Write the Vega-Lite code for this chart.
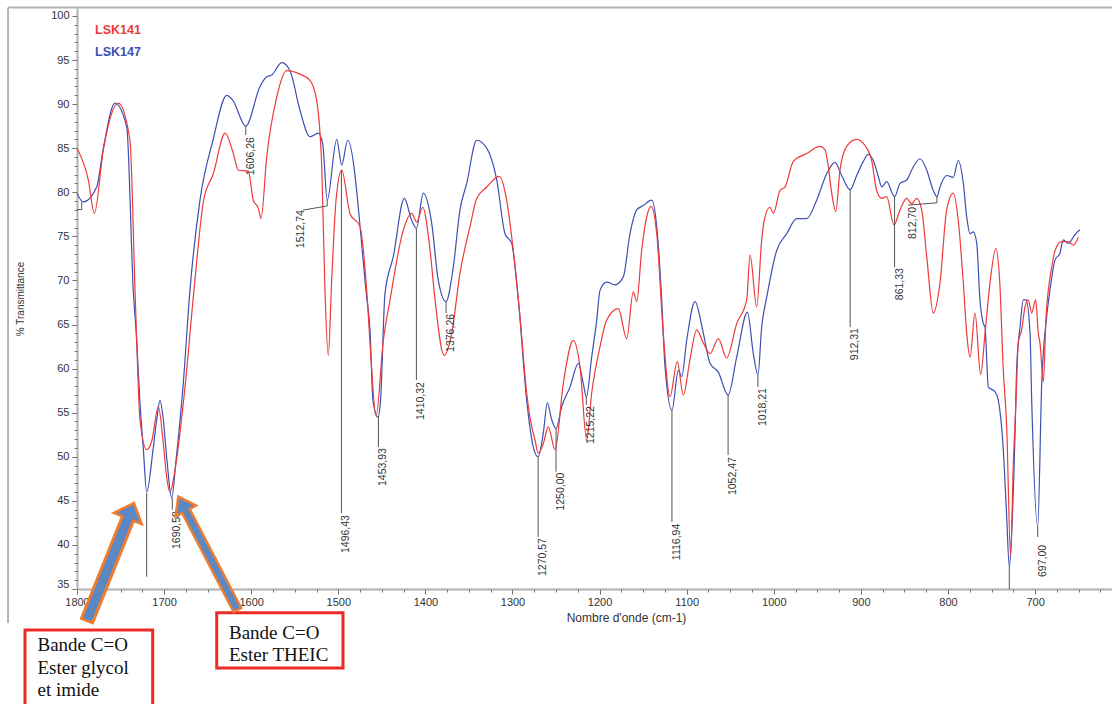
{
"$schema":"https://vega.github.io/schema/vega-lite/v6.json",
"width":1035,"height":581,
"autosize":{"type":"none"},
"padding":{"left":77,"top":8,"right":0,"bottom":115},
"background":"white",
"config":{"view":{"stroke":null},"font":"Liberation Sans","axis":{"grid":false}},
"datasets":{
"spectra":[
{"s":"LSK147","w":1800,"t":79.9},{"s":"LSK147","w":1792.8,"t":78.9},{"s":"LSK147","w":1777.4,"t":80.6},{"s":"LSK147","w":1770.1,"t":84.8},{"s":"LSK147","w":1756.4,"t":90.1},{"s":"LSK147","w":1742.9,"t":87.4},{"s":"LSK147","w":1735.4,"t":68.9},{"s":"LSK147","w":1731.5,"t":63.2},{"s":"LSK147","w":1727.7,"t":56.1},{"s":"LSK147","w":1723.8,"t":50.8},{"s":"LSK147","w":1720.0,"t":46.0},{"s":"LSK147","w":1712.7,"t":50.8},{"s":"LSK147","w":1708.5,"t":54.2},{"s":"LSK147","w":1704.7,"t":56.4},{"s":"LSK147","w":1700.9,"t":54.2},{"s":"LSK147","w":1696.7,"t":49.6},{"s":"LSK147","w":1691.3,"t":45.3},{"s":"LSK147","w":1686.3,"t":49.6},{"s":"LSK147","w":1678.0,"t":58.3},{"s":"LSK147","w":1670.3,"t":68.9},{"s":"LSK147","w":1658.8,"t":79.1},{"s":"LSK147","w":1643.9,"t":85.9},{"s":"LSK147","w":1628.1,"t":91.0},{"s":"LSK147","w":1620.9,"t":90.4},{"s":"LSK147","w":1606.3,"t":87.5},{"s":"LSK147","w":1589.9,"t":92.0},{"s":"LSK147","w":1582.2,"t":93.1},{"s":"LSK147","w":1576.4,"t":93.3},{"s":"LSK147","w":1565.0,"t":94.7},{"s":"LSK147","w":1555.5,"t":93.8},{"s":"LSK147","w":1544.0,"t":89.3},{"s":"LSK147","w":1532.5,"t":86.3},{"s":"LSK147","w":1523.0,"t":86.7},{"s":"LSK147","w":1517.9,"t":85.5},{"s":"LSK147","w":1512.7,"t":79.1},{"s":"LSK147","w":1501.8,"t":86.0},{"s":"LSK147","w":1496.1,"t":83.1},{"s":"LSK147","w":1489.2,"t":85.9},{"s":"LSK147","w":1467.4,"t":68.1},{"s":"LSK147","w":1463.6,"t":64.4},{"s":"LSK147","w":1460.2,"t":56.4},{"s":"LSK147","w":1454.5,"t":54.5},{"s":"LSK147","w":1451.5,"t":56.4},{"s":"LSK147","w":1446.4,"t":68.5},{"s":"LSK147","w":1436.9,"t":72.7},{"s":"LSK147","w":1424.2,"t":79.3},{"s":"LSK147","w":1415.7,"t":76.8},{"s":"LSK147","w":1410.3,"t":75.9},{"s":"LSK147","w":1402.4,"t":79.9},{"s":"LSK147","w":1392.8,"t":76.5},{"s":"LSK147","w":1385.2,"t":70.0},{"s":"LSK147","w":1376.3,"t":67.6},{"s":"LSK147","w":1368.0,"t":71.5},{"s":"LSK147","w":1360.3,"t":78.0},{"s":"LSK147","w":1352.6,"t":81.0},{"s":"LSK147","w":1341.1,"t":85.9},{"s":"LSK147","w":1329.6,"t":85.0},{"s":"LSK147","w":1318.1,"t":81.4},{"s":"LSK147","w":1308.6,"t":75.3},{"s":"LSK147","w":1300.9,"t":74.2},{"s":"LSK147","w":1293.3,"t":67.8},{"s":"LSK147","w":1283.7,"t":56.4},{"s":"LSK147","w":1276.1,"t":51.1},{"s":"LSK147","w":1270.6,"t":50.0},{"s":"LSK147","w":1264.6,"t":52.7},{"s":"LSK147","w":1260.0,"t":56.1},{"s":"LSK147","w":1255.0,"t":54.2},{"s":"LSK147","w":1250.0,"t":53.2},{"s":"LSK147","w":1243.5,"t":55.7},{"s":"LSK147","w":1234.0,"t":57.9},{"s":"LSK147","w":1224.4,"t":60.6},{"s":"LSK147","w":1218.7,"t":58.3},{"s":"LSK147","w":1215.2,"t":56.8},{"s":"LSK147","w":1209.1,"t":61.3},{"s":"LSK147","w":1203.3,"t":65.5},{"s":"LSK147","w":1199.5,"t":68.9},{"s":"LSK147","w":1191.8,"t":69.8},{"s":"LSK147","w":1182.3,"t":69.5},{"s":"LSK147","w":1172.8,"t":70.4},{"s":"LSK147","w":1165.1,"t":75.3},{"s":"LSK147","w":1157.4,"t":78.0},{"s":"LSK147","w":1149.8,"t":78.5},{"s":"LSK147","w":1140.2,"t":79.1},{"s":"LSK147","w":1134.4,"t":76.1},{"s":"LSK147","w":1128.7,"t":67.8},{"s":"LSK147","w":1124.9,"t":60.2},{"s":"LSK147","w":1116.9,"t":55.3},{"s":"LSK147","w":1109.6,"t":59.8},{"s":"LSK147","w":1105.7,"t":59.1},{"s":"LSK147","w":1100.0,"t":63.2},{"s":"LSK147","w":1090.5,"t":67.6},{"s":"LSK147","w":1080.9,"t":64.0},{"s":"LSK147","w":1073.2,"t":60.6},{"s":"LSK147","w":1063.7,"t":59.6},{"s":"LSK147","w":1052.5,"t":57.0},{"s":"LSK147","w":1042.6,"t":61.3},{"s":"LSK147","w":1030.3,"t":66.4},{"s":"LSK147","w":1023.5,"t":61.7},{"s":"LSK147","w":1018.2,"t":59.3},{"s":"LSK147","w":1013.9,"t":64.7},{"s":"LSK147","w":1008.1,"t":68.1},{"s":"LSK147","w":996.7,"t":73.4},{"s":"LSK147","w":985.2,"t":75.3},{"s":"LSK147","w":973.7,"t":77.0},{"s":"LSK147","w":962.2,"t":77.0},{"s":"LSK147","w":950.8,"t":79.1},{"s":"LSK147","w":939.3,"t":82.1},{"s":"LSK147","w":929.7,"t":83.4},{"s":"LSK147","w":922.1,"t":81.9},{"s":"LSK147","w":912.3,"t":80.3},{"s":"LSK147","w":904.8,"t":81.9},{"s":"LSK147","w":897.2,"t":83.5},{"s":"LSK147","w":891.5,"t":84.3},{"s":"LSK147","w":885.8,"t":83.6},{"s":"LSK147","w":880.0,"t":81.8},{"s":"LSK147","w":876.1,"t":80.6},{"s":"LSK147","w":870.4,"t":81.2},{"s":"LSK147","w":861.3,"t":79.5},{"s":"LSK147","w":855.1,"t":81.0},{"s":"LSK147","w":847.4,"t":81.4},{"s":"LSK147","w":839.8,"t":82.9},{"s":"LSK147","w":832.1,"t":83.8},{"s":"LSK147","w":824.4,"t":82.5},{"s":"LSK147","w":816.9,"t":80.2},{"s":"LSK147","w":812.7,"t":79.5},{"s":"LSK147","w":809.2,"t":80.6},{"s":"LSK147","w":801.5,"t":81.9},{"s":"LSK147","w":793.9,"t":81.7},{"s":"LSK147","w":788.2,"t":83.6},{"s":"LSK147","w":782.4,"t":81.0},{"s":"LSK147","w":778.5,"t":77.2},{"s":"LSK147","w":774.7,"t":75.3},{"s":"LSK147","w":770.9,"t":75.5},{"s":"LSK147","w":767.0,"t":74.2},{"s":"LSK147","w":763.3,"t":67.8},{"s":"LSK147","w":759.4,"t":65.1},{"s":"LSK147","w":757.5,"t":64.7},{"s":"LSK147","w":753.7,"t":57.9},{"s":"LSK147","w":746.0,"t":57.4},{"s":"LSK147","w":742.2,"t":56.4},{"s":"LSK147","w":736.5,"t":50.8},{"s":"LSK147","w":732.6,"t":43.2},{"s":"LSK147","w":729.6,"t":37.5},{"s":"LSK147","w":726.9,"t":41.3},{"s":"LSK147","w":723.0,"t":52.7},{"s":"LSK147","w":721.1,"t":60.2},{"s":"LSK147","w":717.3,"t":64.7},{"s":"LSK147","w":713.5,"t":67.8},{"s":"LSK147","w":710.4,"t":67.8},{"s":"LSK147","w":705.8,"t":64.0},{"s":"LSK147","w":703.9,"t":56.4},{"s":"LSK147","w":697.0,"t":42.1},{"s":"LSK147","w":692.4,"t":58.3},{"s":"LSK147","w":686.7,"t":65.9},{"s":"LSK147","w":682.9,"t":68.9},{"s":"LSK147","w":677.1,"t":72.3},{"s":"LSK147","w":671.4,"t":73.1},{"s":"LSK147","w":667.6,"t":74.6},{"s":"LSK147","w":661.8,"t":74.2},{"s":"LSK147","w":656.1,"t":74.9},{"s":"LSK147","w":650.4,"t":75.6},{"s":"LSK147","w":648.4,"t":75.7},
{"s":"LSK141","w":1800,"t":85.0},{"s":"LSK141","w":1787.0,"t":81.4},{"s":"LSK141","w":1780.1,"t":77.6},{"s":"LSK141","w":1769.8,"t":84.8},{"s":"LSK141","w":1752.6,"t":90.1},{"s":"LSK141","w":1739.2,"t":85.9},{"s":"LSK141","w":1733.4,"t":68.9},{"s":"LSK141","w":1731.1,"t":62.1},{"s":"LSK141","w":1727.7,"t":54.2},{"s":"LSK141","w":1720.0,"t":50.8},{"s":"LSK141","w":1713.9,"t":51.9},{"s":"LSK141","w":1706.6,"t":55.7},{"s":"LSK141","w":1701.3,"t":51.9},{"s":"LSK141","w":1696.7,"t":47.4},{"s":"LSK141","w":1693.2,"t":46.0},{"s":"LSK141","w":1687.5,"t":48.5},{"s":"LSK141","w":1676.0,"t":57.9},{"s":"LSK141","w":1665.7,"t":68.9},{"s":"LSK141","w":1654.6,"t":79.1},{"s":"LSK141","w":1643.5,"t":82.1},{"s":"LSK141","w":1630.0,"t":86.7},{"s":"LSK141","w":1620.5,"t":84.4},{"s":"LSK141","w":1614.8,"t":82.5},{"s":"LSK141","w":1603.3,"t":82.4},{"s":"LSK141","w":1597.6,"t":79.1},{"s":"LSK141","w":1591.8,"t":78.2},{"s":"LSK141","w":1588.7,"t":77.0},{"s":"LSK141","w":1582.2,"t":84.0},{"s":"LSK141","w":1570.7,"t":90.8},{"s":"LSK141","w":1559.2,"t":93.8},{"s":"LSK141","w":1544.0,"t":93.4},{"s":"LSK141","w":1532.5,"t":92.7},{"s":"LSK141","w":1524.8,"t":90.4},{"s":"LSK141","w":1519.0,"t":82.9},{"s":"LSK141","w":1515.3,"t":68.9},{"s":"LSK141","w":1511.5,"t":61.5},{"s":"LSK141","w":1507.6,"t":70.0},{"s":"LSK141","w":1502.6,"t":79.1},{"s":"LSK141","w":1496.1,"t":82.5},{"s":"LSK141","w":1486.6,"t":77.6},{"s":"LSK141","w":1475.1,"t":76.1},{"s":"LSK141","w":1467.4,"t":68.9},{"s":"LSK141","w":1462.4,"t":61.0},{"s":"LSK141","w":1456.7,"t":54.6},{"s":"LSK141","w":1448.3,"t":63.2},{"s":"LSK141","w":1440.6,"t":67.8},{"s":"LSK141","w":1425.4,"t":75.7},{"s":"LSK141","w":1415.7,"t":77.6},{"s":"LSK141","w":1410.0,"t":76.6},{"s":"LSK141","w":1403.1,"t":78.3},{"s":"LSK141","w":1394.6,"t":73.4},{"s":"LSK141","w":1388.9,"t":67.8},{"s":"LSK141","w":1378.6,"t":61.5},{"s":"LSK141","w":1369.8,"t":64.0},{"s":"LSK141","w":1360.3,"t":70.8},{"s":"LSK141","w":1348.8,"t":76.1},{"s":"LSK141","w":1341.1,"t":79.3},{"s":"LSK141","w":1329.6,"t":80.6},{"s":"LSK141","w":1315.2,"t":81.8},{"s":"LSK141","w":1306.7,"t":79.1},{"s":"LSK141","w":1299.1,"t":73.4},{"s":"LSK141","w":1291.4,"t":65.9},{"s":"LSK141","w":1283.7,"t":57.2},{"s":"LSK141","w":1280.0,"t":54.5},{"s":"LSK141","w":1274.2,"t":51.9},{"s":"LSK141","w":1270.4,"t":50.4},{"s":"LSK141","w":1264.6,"t":51.5},{"s":"LSK141","w":1258.9,"t":53.4},{"s":"LSK141","w":1251.2,"t":50.8},{"s":"LSK141","w":1241.7,"t":58.3},{"s":"LSK141","w":1230.2,"t":63.2},{"s":"LSK141","w":1222.5,"t":60.2},{"s":"LSK141","w":1214.8,"t":51.9},{"s":"LSK141","w":1209.1,"t":57.2},{"s":"LSK141","w":1199.5,"t":62.5},{"s":"LSK141","w":1191.8,"t":65.5},{"s":"LSK141","w":1178.5,"t":66.8},{"s":"LSK141","w":1168.9,"t":63.4},{"s":"LSK141","w":1161.3,"t":68.7},{"s":"LSK141","w":1157.4,"t":67.6},{"s":"LSK141","w":1151.7,"t":73.4},{"s":"LSK141","w":1145.9,"t":77.2},{"s":"LSK141","w":1141.0,"t":78.4},{"s":"LSK141","w":1134.4,"t":75.3},{"s":"LSK141","w":1126.9,"t":64.0},{"s":"LSK141","w":1119.2,"t":56.8},{"s":"LSK141","w":1110.8,"t":60.8},{"s":"LSK141","w":1103.9,"t":57.0},{"s":"LSK141","w":1096.3,"t":61.0},{"s":"LSK141","w":1088.5,"t":64.4},{"s":"LSK141","w":1080.9,"t":62.9},{"s":"LSK141","w":1073.2,"t":61.7},{"s":"LSK141","w":1063.7,"t":63.4},{"s":"LSK141","w":1054.1,"t":61.2},{"s":"LSK141","w":1042.6,"t":65.1},{"s":"LSK141","w":1031.1,"t":67.8},{"s":"LSK141","w":1027.3,"t":72.9},{"s":"LSK141","w":1019.6,"t":67.0},{"s":"LSK141","w":1013.9,"t":74.6},{"s":"LSK141","w":1010.1,"t":77.2},{"s":"LSK141","w":1004.4,"t":78.3},{"s":"LSK141","w":1000.6,"t":77.6},{"s":"LSK141","w":992.9,"t":80.2},{"s":"LSK141","w":987.1,"t":80.6},{"s":"LSK141","w":977.6,"t":83.5},{"s":"LSK141","w":962.2,"t":84.4},{"s":"LSK141","w":946.9,"t":85.2},{"s":"LSK141","w":941.2,"t":84.8},{"s":"LSK141","w":937.4,"t":82.9},{"s":"LSK141","w":933.5,"t":79.9},{"s":"LSK141","w":928.9,"t":77.8},{"s":"LSK141","w":924.0,"t":82.5},{"s":"LSK141","w":916.3,"t":85.2},{"s":"LSK141","w":904.8,"t":86.0},{"s":"LSK141","w":895.3,"t":85.3},{"s":"LSK141","w":887.6,"t":83.6},{"s":"LSK141","w":881.9,"t":80.2},{"s":"LSK141","w":876.1,"t":79.3},{"s":"LSK141","w":870.4,"t":79.5},{"s":"LSK141","w":862.0,"t":76.3},{"s":"LSK141","w":855.1,"t":78.0},{"s":"LSK141","w":847.4,"t":79.3},{"s":"LSK141","w":841.7,"t":78.7},{"s":"LSK141","w":835.9,"t":79.3},{"s":"LSK141","w":830.2,"t":78.0},{"s":"LSK141","w":824.4,"t":72.7},{"s":"LSK141","w":816.9,"t":66.3},{"s":"LSK141","w":809.2,"t":69.7},{"s":"LSK141","w":801.5,"t":78.0},{"s":"LSK141","w":793.9,"t":79.9},{"s":"LSK141","w":788.2,"t":76.8},{"s":"LSK141","w":782.4,"t":69.7},{"s":"LSK141","w":778.5,"t":64.0},{"s":"LSK141","w":774.7,"t":61.3},{"s":"LSK141","w":769.0,"t":66.3},{"s":"LSK141","w":762.5,"t":59.3},{"s":"LSK141","w":757.5,"t":64.0},{"s":"LSK141","w":751.8,"t":69.7},{"s":"LSK141","w":745.1,"t":73.6},{"s":"LSK141","w":740.5,"t":69.7},{"s":"LSK141","w":736.7,"t":60.2},{"s":"LSK141","w":732.6,"t":53.4},{"s":"LSK141","w":728.1,"t":38.7},{"s":"LSK141","w":725.1,"t":48.9},{"s":"LSK141","w":721.9,"t":56.4},{"s":"LSK141","w":719.3,"t":62.9},{"s":"LSK141","w":715.4,"t":64.4},{"s":"LSK141","w":711.6,"t":67.0},{"s":"LSK141","w":707.8,"t":67.8},{"s":"LSK141","w":703.9,"t":66.3},{"s":"LSK141","w":699.3,"t":67.8},{"s":"LSK141","w":696.3,"t":64.0},{"s":"LSK141","w":694.4,"t":62.9},{"s":"LSK141","w":690.5,"t":58.5},{"s":"LSK141","w":687.4,"t":65.9},{"s":"LSK141","w":684.8,"t":68.9},{"s":"LSK141","w":680.9,"t":71.5},{"s":"LSK141","w":677.1,"t":73.4},{"s":"LSK141","w":669.4,"t":74.4},{"s":"LSK141","w":661.8,"t":74.4},{"s":"LSK141","w":656.1,"t":74.0},{"s":"LSK141","w":650.4,"t":74.9}
],
"peaks":[
{"w":1720.0,"t1":45.9,"t2":36.4},{"w":1690.58,"t1":45.3,"t2":44.0},{"w":1606.26,"t1":87.5,"t2":86.5},{"w":1496.43,"t1":82.5,"t2":43.6},{"w":1453.93,"t1":54.6,"t2":51.1},{"w":1410.32,"t1":75.9,"t2":58.7},{"w":1376.26,"t1":67.6,"t2":66.3},{"w":1270.57,"t1":50.0,"t2":40.9},{"w":1250.0,"t1":53.2,"t2":48.3},{"w":1215.22,"t1":56.8,"t2":55.9},{"w":1116.94,"t1":55.3,"t2":42.6},{"w":1052.47,"t1":57.0,"t2":50.2},{"w":1018.21,"t1":59.3,"t2":57.9},{"w":912.31,"t1":80.3,"t2":64.7},{"w":861.33,"t1":79.5,"t2":71.5},{"w":729.6,"t1":37.5,"t2":35.0},{"w":697.0,"t1":42.1,"t2":40.9}
],
"labels":[
{"label":"1690,58","w":1690.58,"t":43.84},{"label":"1606,26","w":1606.26,"t":86.25},{"label":"1512,74","w":1548.6,"t":77.97},{"label":"1496,43","w":1496.43,"t":43.39},{"label":"1453,93","w":1453.93,"t":50.99},{"label":"1410,32","w":1410.32,"t":58.47},{"label":"1376,26","w":1376.26,"t":66.2},{"label":"1270,57","w":1270.57,"t":40.78},{"label":"1250,00","w":1250.0,"t":48.2},{"label":"1215,22","w":1215.22,"t":55.75},{"label":"1116,94","w":1116.94,"t":42.4},{"label":"1052,47","w":1052.47,"t":49.96},{"label":"1018,21","w":1018.21,"t":57.79},{"label":"912,31","w":912.31,"t":64.6},{"label":"861,33","w":861.33,"t":71.4},{"label":"812,70","w":845.9,"t":78.34},{"label":"697,00","w":697.0,"t":40.0}
],
"leaders":[
{"id":"a","o":0,"w":1512.74,"t":79.1},{"id":"a","o":1,"w":1512.74,"t":78.45},{"id":"a","o":2,"w":1540.9,"t":77.97},
{"id":"b","o":0,"w":812.7,"t":79.5},{"id":"b","o":1,"w":812.7,"t":78.8},{"id":"b","o":2,"w":845.6,"t":78.54},
{"id":"c","o":0,"w":1794.6,"t":78.9},{"id":"c","o":1,"w":1794.6,"t":78.03},{"id":"c","o":2,"w":1800,"t":78.03}
],
"frame":[{"w":1879.2,"t":100.95,"w2":1879.2,"t2":31.15},{"w":1879.2,"t":100.95,"w2":611.7,"t2":100.95}],
"boxes":[{"w":1859.7,"w2":1713.1,"t":30.35,"t2":21.05},{"w":1639.6,"w2":1494.6,"t":32.31,"t2":26.04}],
"boxtext":[{"txt":"Bande C=O","w":1845.4,"t":28.65},{"txt":"Ester glycol","w":1845.4,"t":26.04},{"txt":"et imide","w":1845.4,"t":23.55},{"txt":"Bande C=O","w":1625.5,"t":30.01},{"txt":"Ester THEIC","w":1625.5,"t":27.52}],
"arrows":[
{"a":1,"part":"outer","o":0,"w":1789.1,"t":31.26},{"a":1,"part":"outer","o":1,"w":1740.3,"t":43.28},
{"a":1,"part":"inner","o":0,"w":1788.1,"t":31.52},{"a":1,"part":"inner","o":1,"w":1740.3,"t":43.28},
{"a":1,"part":"head","o":0,"w":1738.1,"t":43.88},
{"a":2,"part":"outer","o":0,"w":1615.2,"t":32.5},{"a":2,"part":"outer","o":1,"w":1676.2,"t":44.07},
{"a":2,"part":"inner","o":0,"w":1616.5,"t":32.75},{"a":2,"part":"inner","o":1,"w":1676.2,"t":44.07},
{"a":2,"part":"head","o":0,"w":1679.4,"t":44.66}
],
"legend":[{"s":"LSK141","w":1779.3,"t":98.46},{"s":"LSK147","w":1779.3,"t":95.92}]
},
"resolve":{"axis":{"x":"independent","y":"independent"}},
"layer":[
{"data":{"name":"frame"},
 "mark":{"type":"rule","color":"#b4b4b4","strokeWidth":2,"clip":false},
 "encoding":{"x":{"field":"w","type":"quantitative","scale":{"domain":[611.7,1800],"reverse":true,"nice":false,"zero":false},"axis":null},
  "y":{"field":"t","type":"quantitative","scale":{"domain":[35,100.9],"nice":false,"zero":false},"axis":null},
  "x2":{"field":"w2"},"y2":{"field":"t2"}}},
{"data":{"name":"spectra"},
 "mark":{"type":"line","interpolate":"monotone","strokeWidth":1.2,"clip":true},
 "encoding":{"x":{"field":"w","type":"quantitative","scale":{"domain":[611.7,1800],"reverse":true,"nice":false,"zero":false},
   "axis":{"orient":"bottom","values":[1800,1700,1600,1500,1400,1300,1200,1100,1000,900,800,700],"format":"d","title":"Nombre d'onde (cm-1)","tickSize":5,"tickColor":"#666666","domainColor":"#b0b0b0","domainWidth":2,"labelFontSize":11,"labelColor":"#333333","labelPadding":2,"labelFlush":false,"labelOverlap":false,"titleFontSize":12,"titleFontWeight":"normal","titleColor":"#333333","titleX":549,"titleY":28,"titleBaseline":"middle","titleAlign":"center"}},
  "y":{"field":"t","type":"quantitative","scale":{"domain":[35,100.9],"nice":false,"zero":false},
   "axis":{"orient":"left","values":[35,40,45,50,55,60,65,70,75,80,85,90,95,100],"format":"d","title":"% Transmittance","tickSize":5,"tickColor":"#666666","domainColor":"#b0b0b0","domainWidth":2,"labelFontSize":11,"labelColor":"#333333","labelPadding":3,"labelFlush":false,"labelOverlap":false,"labelBaseline":{"condition":{"test":"datum.value == 35","value":"bottom"},"value":"middle"},"titleFontSize":10,"titleFontWeight":"normal","titleColor":"#333333","titleX":-57,"titleY":290.5,"titleAngle":270,"titleBaseline":"middle","titleAlign":"center"}},
  "color":{"field":"s","type":"nominal","scale":{"domain":["LSK141","LSK147"],"range":["#ee3a3a","#3d4fb3"]},"legend":null},
  "order":{"field":"w","type":"quantitative"}}},
{"data":{"name":"peaks"},
 "mark":{"type":"rule","color":"#555555","strokeWidth":1,"clip":false},
 "encoding":{"x":{"field":"w","type":"quantitative","scale":{"domain":[611.7,1800],"reverse":true,"nice":false,"zero":false},"axis":null},
  "y":{"field":"t1","type":"quantitative","scale":{"domain":[35,100.9],"nice":false,"zero":false},"axis":null},
  "y2":{"field":"t2"}}},
{"data":{"name":"leaders"},
 "mark":{"type":"line","color":"#555555","strokeWidth":1,"clip":false},
 "encoding":{"x":{"field":"w","type":"quantitative","scale":{"domain":[611.7,1800],"reverse":true,"nice":false,"zero":false},"axis":null},
  "y":{"field":"t","type":"quantitative","scale":{"domain":[35,100.9],"nice":false,"zero":false},"axis":null},
  "detail":{"field":"id","type":"nominal"},
  "order":{"field":"o","type":"quantitative"}}},
{"data":{"name":"labels"},
 "mark":{"type":"text","angle":270,"align":"right","baseline":"top","fontSize":10.5,"color":"#333333","font":"Liberation Sans","clip":false},
 "encoding":{"x":{"field":"w","type":"quantitative","scale":{"domain":[611.7,1800],"reverse":true,"nice":false,"zero":false},"axis":null},
  "y":{"field":"t","type":"quantitative","scale":{"domain":[35,100.9],"nice":false,"zero":false},"axis":null},
  "text":{"field":"label","type":"nominal"}}},
{"data":{"name":"boxes"},
 "mark":{"type":"rect","fill":"white","stroke":"#ee2a24","strokeWidth":3,"clip":false},
 "encoding":{"x":{"field":"w","type":"quantitative","scale":{"domain":[611.7,1800],"reverse":true,"nice":false,"zero":false},"axis":null},
  "x2":{"field":"w2"},
  "y":{"field":"t","type":"quantitative","scale":{"domain":[35,100.9],"nice":false,"zero":false},"axis":null},
  "y2":{"field":"t2"}}},
{"data":{"name":"boxtext"},
 "mark":{"type":"text","align":"left","baseline":"middle","fontSize":19,"font":"Liberation Serif","color":"#111111","clip":false},
 "encoding":{"x":{"field":"w","type":"quantitative","scale":{"domain":[611.7,1800],"reverse":true,"nice":false,"zero":false},"axis":null},
  "y":{"field":"t","type":"quantitative","scale":{"domain":[35,100.9],"nice":false,"zero":false},"axis":null},
  "text":{"field":"txt","type":"nominal"}}},
{"data":{"name":"arrows"},"transform":[{"filter":"datum.a == 1 && datum.part == 'outer'"}],
 "mark":{"type":"line","color":"#ed7d31","strokeWidth":15,"strokeCap":"butt","clip":false},
 "encoding":{"x":{"field":"w","type":"quantitative","scale":{"domain":[611.7,1800],"reverse":true,"nice":false,"zero":false},"axis":null},
  "y":{"field":"t","type":"quantitative","scale":{"domain":[35,100.9],"nice":false,"zero":false},"axis":null},
  "order":{"field":"o","type":"quantitative"}}},
{"data":{"name":"arrows"},"transform":[{"filter":"datum.a == 2 && datum.part == 'outer'"}],
 "mark":{"type":"line","color":"#ed7d31","strokeWidth":11,"strokeCap":"butt","clip":false},
 "encoding":{"x":{"field":"w","type":"quantitative","scale":{"domain":[611.7,1800],"reverse":true,"nice":false,"zero":false},"axis":null},
  "y":{"field":"t","type":"quantitative","scale":{"domain":[35,100.9],"nice":false,"zero":false},"axis":null},
  "order":{"field":"o","type":"quantitative"}}},
{"data":{"name":"arrows"},"transform":[{"filter":"datum.a == 1 && datum.part == 'head'"}],
 "mark":{"type":"point","shape":"M0,-0.55L1,0.55L-1,0.55Z","size":900,"angle":21.8,"filled":true,"fill":"#5b87c4","stroke":"#ed7d31","strokeWidth":2.5,"opacity":1,"clip":false},
 "encoding":{"x":{"field":"w","type":"quantitative","scale":{"domain":[611.7,1800],"reverse":true,"nice":false,"zero":false},"axis":null},
  "y":{"field":"t","type":"quantitative","scale":{"domain":[35,100.9],"nice":false,"zero":false},"axis":null}}},
{"data":{"name":"arrows"},"transform":[{"filter":"datum.a == 2 && datum.part == 'head'"}],
 "mark":{"type":"point","shape":"M0,-0.7L1,0.7L-1,0.7Z","size":529,"angle":332.4,"filled":true,"fill":"#5b87c4","stroke":"#ed7d31","strokeWidth":2.5,"opacity":1,"clip":false},
 "encoding":{"x":{"field":"w","type":"quantitative","scale":{"domain":[611.7,1800],"reverse":true,"nice":false,"zero":false},"axis":null},
  "y":{"field":"t","type":"quantitative","scale":{"domain":[35,100.9],"nice":false,"zero":false},"axis":null}}},
{"data":{"name":"arrows"},"transform":[{"filter":"datum.a == 1 && datum.part == 'inner'"}],
 "mark":{"type":"line","color":"#5b87c4","strokeWidth":9,"strokeCap":"butt","clip":false},
 "encoding":{"x":{"field":"w","type":"quantitative","scale":{"domain":[611.7,1800],"reverse":true,"nice":false,"zero":false},"axis":null},
  "y":{"field":"t","type":"quantitative","scale":{"domain":[35,100.9],"nice":false,"zero":false},"axis":null},
  "order":{"field":"o","type":"quantitative"}}},
{"data":{"name":"arrows"},"transform":[{"filter":"datum.a == 2 && datum.part == 'inner'"}],
 "mark":{"type":"line","color":"#5b87c4","strokeWidth":6,"strokeCap":"butt","clip":false},
 "encoding":{"x":{"field":"w","type":"quantitative","scale":{"domain":[611.7,1800],"reverse":true,"nice":false,"zero":false},"axis":null},
  "y":{"field":"t","type":"quantitative","scale":{"domain":[35,100.9],"nice":false,"zero":false},"axis":null},
  "order":{"field":"o","type":"quantitative"}}},
{"data":{"name":"legend"},
 "mark":{"type":"text","align":"left","baseline":"middle","fontSize":12.5,"fontWeight":"bold","font":"Liberation Sans","clip":false},
 "encoding":{"x":{"field":"w","type":"quantitative","scale":{"domain":[611.7,1800],"reverse":true,"nice":false,"zero":false},
   "axis":{"orient":"bottom","values":[625,650,675,700,725,750,775,800,825,850,875,900,925,950,975,1000,1025,1050,1075,1100,1125,1150,1175,1200,1225,1250,1275,1300,1325,1350,1375,1400,1425,1450,1475,1500,1525,1550,1575,1600,1625,1650,1675,1700,1725,1750,1775,1800],"labels":false,"domain":false,"ticks":true,"tickSize":3,"tickColor":"#777777","title":null,"grid":false}},
  "y":{"field":"t","type":"quantitative","scale":{"domain":[35,100.9],"nice":false,"zero":false},
   "axis":{"orient":"left","values":[35,36,37,38,39,40,41,42,43,44,45,46,47,48,49,50,51,52,53,54,55,56,57,58,59,60,61,62,63,64,65,66,67,68,69,70,71,72,73,74,75,76,77,78,79,80,81,82,83,84,85,86,87,88,89,90,91,92,93,94,95,96,97,98,99,100],"labels":false,"domain":false,"ticks":true,"tickSize":3,"tickColor":"#777777","title":null,"grid":false}},
  "text":{"field":"s","type":"nominal"},
  "color":{"field":"s","type":"nominal","scale":{"domain":["LSK141","LSK147"],"range":["#ee3a3a","#3d4fb3"]},"legend":null}}}
]
}
